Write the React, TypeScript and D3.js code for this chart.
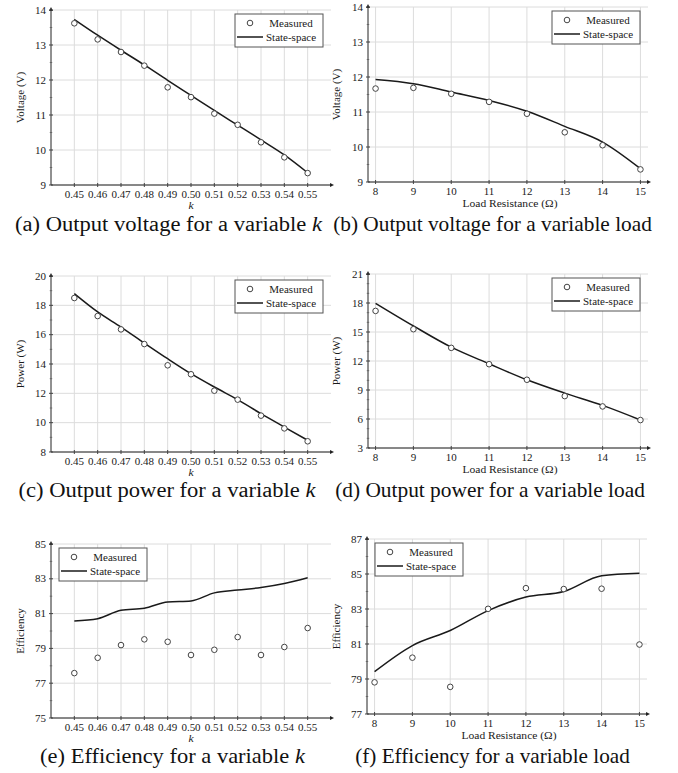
import { useEffect, useRef } from "react";
import * as d3 from "d3";

// k sweep and load sweep
const kValues = [0.45, 0.46, 0.47, 0.48, 0.49, 0.5, 0.51, 0.52, 0.53, 0.54, 0.55];
const loadValues = [8, 9, 10, 11, 12, 13, 14, 15];

const kVoltageMeasured = [13.62, 13.16, 12.8, 12.41, 11.79, 11.51, 11.04, 10.72, 10.22, 9.79, 9.34];
const kVoltageModel = [13.73, 13.28, 12.85, 12.43, 11.99, 11.56, 11.13, 10.71, 10.29, 9.86, 9.35];
const loadVoltageMeasured = [11.67, 11.69, 11.52, 11.29, 10.95, 10.42, 10.05, 9.36];
const loadVoltageModel = [11.93, 11.81, 11.57, 11.33, 11.02, 10.59, 10.14, 9.38];

const kPowerMeasured = [18.5, 17.27, 16.36, 15.36, 13.91, 13.3, 12.18, 11.57, 10.48, 9.61, 8.73];
const kPowerModel = [18.8, 17.55, 16.52, 15.43, 14.36, 13.34, 12.43, 11.57, 10.61, 9.7, 8.8];
const loadPowerMeasured = [17.18, 15.29, 13.36, 11.67, 10.06, 8.37, 7.3, 5.89];
const loadPowerModel = [17.97, 15.63, 13.43, 11.71, 10.06, 8.68, 7.41, 5.9];

const kEffMeasured = [77.58, 78.46, 79.19, 79.52, 79.38, 78.62, 78.92, 79.65, 78.62, 79.08, 80.17];
const kEffModel = [80.58, 80.71, 81.19, 81.31, 81.67, 81.73, 82.19, 82.35, 82.5, 82.73, 83.06];
const loadEffMeasured = [78.81, 80.22, 78.55, 83.01, 84.19, 84.14, 84.16, 80.97];
const loadEffModel = [79.42, 80.91, 81.77, 82.91, 83.68, 84.0, 84.9, 85.05];

// tick labels
const voltageTicks = [9, 10, 11, 12, 13, 14];
const kPowerTicks = [8, 10, 12, 14, 16, 18, 20];
const loadPowerTicks = [3, 6, 9, 12, 15, 18, 21];
const kEffTicks = [75, 77, 79, 81, 83, 85];
const loadEffTicks = [77, 79, 81, 83, 85, 87];

const legendLabels = ["Measured", "State-space"];

const panels = [
  { x: kValues, meas: kVoltageMeasured, model: kVoltageModel, yTicks: voltageTicks, minor: 1, yLabel: "Voltage (V)", xLabel: "k", legend: "right", caption: "(a) Output voltage for a variable ", capTail: "k", capX: 168.5, capW: 307, box: { x0: 51, x1: 331, y0: 10, y1: 185 } },
  { x: loadValues, meas: loadVoltageMeasured, model: loadVoltageModel, yTicks: voltageTicks, minor: 1, yLabel: "Voltage (V)", xLabel: "Load Resistance (Ω)", legend: "right", caption: "(b) Output voltage for a variable load", capTail: "", capX: 492.5, capW: 319, box: { x0: 368, x1: 648, y0: 7, y1: 182 } },
  { x: kValues, meas: kPowerMeasured, model: kPowerModel, yTicks: kPowerTicks, minor: 1, yLabel: "Power (W)", xLabel: "k", legend: "right", caption: "(c) Output power for a variable ", capTail: "k", capX: 167, capW: 297, box: { x0: 51, x1: 331, y0: 276, y1: 452 } },
  { x: loadValues, meas: loadPowerMeasured, model: loadPowerModel, yTicks: loadPowerTicks, minor: 2, yLabel: "Power (W)", xLabel: "Load Resistance (Ω)", legend: "right", caption: "(d) Output power for a variable load", capTail: "", capX: 490, capW: 310, box: { x0: 368, x1: 648, y0: 274, y1: 448 } },
  { x: kValues, meas: kEffMeasured, model: kEffModel, yTicks: kEffTicks, minor: 1, yLabel: "Efficiency", xLabel: "k", legend: "left", caption: "(e) Efficiency for a variable ", capTail: "k", capX: 172.5, capW: 265, box: { x0: 51, x1: 331, y0: 544, y1: 718 } },
  { x: loadValues, meas: loadEffMeasured, model: loadEffModel, yTicks: loadEffTicks, minor: 1, yLabel: "Efficiency", xLabel: "Load Resistance (Ω)", legend: "left", caption: "(f) Efficiency for a variable load", capTail: "", capX: 492.5, capW: 275, box: { x0: 367, x1: 647, y0: 539, y1: 714 } },
];

const captionBaselines = [231, 497, 763];
const STRETCH = 1.1; // source image is a bit wider than tall
const FONT = "'Liberation Serif', 'Times New Roman', Times, serif";

export default function App() {
  const ref = useRef<SVGSVGElement>(null);

  useEffect(() => {
    const svg = d3.select(ref.current);
    svg.selectAll("*").remove();

    svg.append("rect").attr("width", 678).attr("height", 773).attr("fill", "#fff");

    const label = (
      parent: any,
      x: number,
      y: number,
      str: string,
      size: number,
      anchor = "middle",
      italic = false
    ) =>
      parent
        .append("g")
        .attr("transform", `translate(${x},${y}) scale(${STRETCH},1)`)
        .append("text")
        .attr("text-anchor", anchor)
        .attr("font-family", FONT)
        .attr("font-size", size)
        .attr("font-style", italic ? "italic" : "normal")
        .attr("fill", "#1a1a1a")
        .text(str);

    panels.forEach((p, i) => {
      const { x0, x1, y0, y1 } = p.box;
      const isK = p.xLabel === "k";
      const g = svg.append("g");

      const x = d3
        .scaleLinear()
        .domain(isK ? [0.44, 0.56] : [7.8, 15.2])
        .range([x0, x1]);
      const y = d3
        .scaleLinear()
        .domain([p.yTicks[0], p.yTicks[p.yTicks.length - 1]])
        .range([y1, y0]);

      // grid
      g.selectAll(".hgrid")
        .data(p.yTicks)
        .enter()
        .append("line")
        .attr("x1", x0)
        .attr("x2", x1)
        .attr("y1", (d) => y(d))
        .attr("y2", (d) => y(d))
        .attr("stroke", "#dcdcdc")
        .attr("stroke-width", 1);
      g.selectAll(".vgrid")
        .data(p.x)
        .enter()
        .append("line")
        .attr("x1", (d) => x(d))
        .attr("x2", (d) => x(d))
        .attr("y1", y1)
        .attr("y2", y0)
        .attr("stroke", "#dcdcdc")
        .attr("stroke-width", 1);

      // axes
      g.append("line").attr("x1", x0).attr("x2", x1).attr("y1", y1).attr("y2", y1).attr("stroke", "#222").attr("stroke-width", 1);
      g.append("line").attr("x1", x0).attr("x2", x0).attr("y1", y1).attr("y2", y0).attr("stroke", "#222").attr("stroke-width", 1);
      g.append("path")
        .attr("d", `M${x1 + 3},${y1} L${x1 - 1},${y1 - 2} L${x1 - 1},${y1 + 2} Z`)
        .attr("fill", "#222");
      g.append("path")
        .attr("d", `M${x0},${y0 - 3} L${x0 - 2},${y0 + 1} L${x0 + 2},${y0 + 1} Z`)
        .attr("fill", "#222");

      // ticks
      const step = p.yTicks[1] - p.yTicks[0];
      const minorTicks: number[] = [];
      p.yTicks.slice(0, -1).forEach((t) => {
        for (let m = 1; m <= p.minor; m++) minorTicks.push(t + (step * m) / (p.minor + 1));
      });
      g.selectAll(".ytick")
        .data(p.yTicks)
        .enter()
        .append("line")
        .attr("x1", x0 - 2)
        .attr("x2", x0 + 2)
        .attr("y1", (d) => y(d))
        .attr("y2", (d) => y(d))
        .attr("stroke", "#444");
      g.selectAll(".ymtick")
        .data(minorTicks)
        .enter()
        .append("line")
        .attr("x1", x0 - 1.2)
        .attr("x2", x0 + 1.2)
        .attr("y1", (d) => y(d))
        .attr("y2", (d) => y(d))
        .attr("stroke", "#666");
      g.selectAll(".xtick")
        .data(p.x)
        .enter()
        .append("line")
        .attr("x1", (d) => x(d))
        .attr("x2", (d) => x(d))
        .attr("y1", y1 - 2)
        .attr("y2", y1 + 2)
        .attr("stroke", "#444");

      p.yTicks.forEach((t) => label(g, x0 - 5, y(t) + 3.5, String(t), 10, "end"));
      const fmt = isK ? d3.format(".2f") : d3.format("d");
      p.x.forEach((v) => label(g, x(v), y1 + 13, fmt(v), 10));

      // axis titles
      const xMid = (x0 + x1) / 2;
      if (isK) label(g, xMid, y1 + 23.5, "k", 10.5, "middle", true);
      else label(g, xMid + 2, y1 + 25, p.xLabel, 10.5);
      g.append("text")
        .attr("transform", `translate(${i % 2 === 0 ? 24 : 340},${(y0 + y1) / 2}) rotate(-90)`)
        .attr("text-anchor", "middle")
        .attr("font-family", FONT)
        .attr("font-size", 11)
        .attr("fill", "#1a1a1a")
        .text(p.yLabel);

      // model curve
      const line = d3
        .line<number>()
        .x((_, j) => x(p.x[j]))
        .y((d) => y(d))
        .curve(d3.curveMonotoneX);
      g.append("path")
        .attr("d", line(p.model))
        .attr("fill", "none")
        .attr("stroke", "#1a1a1a")
        .attr("stroke-width", 1.5);

      // measured markers
      g.selectAll(".pt")
        .data(p.meas)
        .enter()
        .append("circle")
        .attr("cx", (_, j) => x(p.x[j]))
        .attr("cy", (d) => y(d))
        .attr("r", 2.8)
        .attr("fill", "#fff")
        .attr("stroke", "#444")
        .attr("stroke-width", 1);

      // legend
      const lx = p.legend === "right" ? x1 - 96 : x0 + 8;
      const ly = y0 + 4;
      const lg = g.append("g").attr("transform", `translate(${lx},${ly})`);
      lg.append("rect").attr("width", 88).attr("height", 33).attr("fill", "#fff").attr("stroke", "#555").attr("stroke-width", 1);
      lg.append("circle").attr("cx", 15).attr("cy", 9).attr("r", 2.8).attr("fill", "#fff").attr("stroke", "#444");
      lg.append("line").attr("x1", 2).attr("x2", 28).attr("y1", 23).attr("y2", 23).attr("stroke", "#1a1a1a").attr("stroke-width", 1.5);
      label(lg, 56, 12.5, legendLabels[0], 10);
      label(lg, 56, 26.5, legendLabels[1], 10);

      // caption, fitted to the width it has in the source
      const capG = svg
        .append("g")
        .attr("transform", `translate(${p.capX},${captionBaselines[Math.floor(i / 2)]})`);
      const cap = capG
        .append("text")
        .attr("text-anchor", "middle")
        .attr("font-family", FONT)
        .attr("font-size", 20)
        .attr("fill", "#111");
      cap.append("tspan").text(p.caption);
      if (p.capTail) cap.append("tspan").attr("font-style", "italic").text(p.capTail);
      const w = (cap.node() as SVGTextElement).getComputedTextLength();
      if (w > 0) capG.attr("transform", `translate(${p.capX},${captionBaselines[Math.floor(i / 2)]}) scale(${p.capW / w},1)`);
    });
  }, []);

  return (
    <svg
      ref={ref}
      width={678}
      height={773}
      style={{ position: "absolute", left: 0, top: 0 }}
    />
  );
}
